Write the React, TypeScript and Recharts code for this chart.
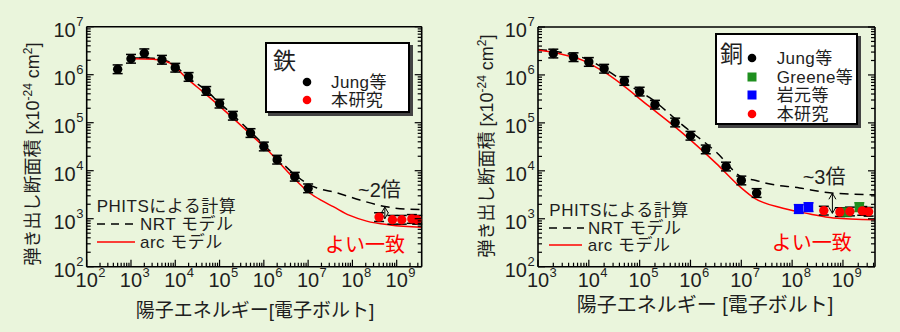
import React from "react";
import {
  ComposedChart,
  Line,
  Scatter,
  XAxis,
  YAxis,
  ErrorBar,
  ReferenceLine,
} from "recharts";

const FONT = "'Liberation Sans', 'Noto Sans CJK JP', sans-serif";
const INK = "#1e1e1e";
const BG = "#eaf5dc";
const RED = "#ff0000";
const GREEN = "#1f8f1f";
const BLUE = "#0000ff";

// axis ticks and ranges
const feXMajor = [1e2, 1e3, 1e4, 1e5, 1e6, 1e7, 1e8, 1e9];
const cuXMajor = [1e3, 1e4, 1e5, 1e6, 1e7, 1e8, 1e9];
const yMajor = [1e2, 1e3, 1e4, 1e5, 1e6, 1e7];
const feXDomain = [1e2, 3.67e9];
const cuXDomain = [1e3, 4.27e9];
const yDomain = [1e2, 1e7];

// relative size of the error bars (down / up)
const ERR_LO = 0.19;
const ERR_HI = 0.23;

// ---- 鉄 (Fe) ----
const feJungE = [5e2, 1e3, 2e3, 5e3, 1e4, 2e4, 5e4, 1e5, 2e5, 5e5, 1e6, 2e6, 5e6, 1e7];
const feJungS = [1.3e6, 2.15e6, 2.8e6, 2.05e6, 1.4e6, 9.0e5, 4.6e5, 2.5e5, 1.4e5, 6.1e4, 3.2e4, 1.7e4, 7.5e3, 4.3e3];
const feOursE = [4.0e8, 8.0e8, 1.3e9, 2.2e9, 2.9e9];
const feOursS = [1.08e3, 9.5e2, 9.5e2, 9.9e2, 9.5e2];
const feNrtE = [1e3, 3.16e3, 7.6e3, 1.82e4, 5e4, 1e5, 2e5, 5e5, 1e6, 2e6, 5e6, 1e7, 1.58e7, 4.4e7, 1.48e8, 5e8, 1.66e9, 3.67e9];
const feNrtS = [2.24e6, 2.19e6, 1.82e6, 9.3e5, 4.68e5, 2.57e5, 1.45e5, 6.5e4, 3.47e4, 1.82e4, 8.3e3, 5.25e3, 4.37e3, 3.47e3, 2.45e3, 1.82e3, 1.58e3, 1.55e3];
const feArcE = [1.12e3, 3.16e3, 7.6e3, 1.82e4, 5.1e4, 2.04e5, 5e5, 1.15e6, 2.5e6, 4.6e6, 1.1e7, 2e7, 3.7e7, 8.7e7, 2.1e8, 7.1e8, 3.67e9];
const feArcS = [2.14e6, 2.09e6, 1.74e6, 8.4e5, 3.8e5, 1.23e5, 5.75e4, 2.82e4, 1.32e4, 7.2e3, 3.39e3, 2.4e3, 1.78e3, 1.17e3, 8.9e2, 7.4e2, 6.6e2];

// ---- 銅 (Cu) ----
const cuJungE = [2e3, 5e3, 1e4, 2e4, 5e4, 1e5, 2e5, 5e5, 1e6, 2e6, 5e6, 1e7, 2e7];
const cuJungS = [2.8e6, 2.35e6, 1.87e6, 1.35e6, 7.5e5, 4.5e5, 2.4e5, 1.02e5, 5.4e4, 2.8e4, 1.23e4, 6.3e3, 3.45e3];
const cuGreeneE = [1.17e9, 2.1e9];
const cuGreeneS = [1.38e3, 1.75e3];
const cuIwamotoE = [1.35e8, 2.1e8];
const cuIwamotoS = [1.6e3, 1.75e3];
const cuOursE = [4.2e8, 8.7e8, 1.37e9, 2.4e9, 3.2e9];
const cuOursS = [1.48e3, 1.38e3, 1.42e3, 1.46e3, 1.4e3];
const cuNrtE = [1e3, 3.16e3, 1e4, 2.5e4, 6.3e4, 1.55e5, 6.9e5, 3.16e6, 1.07e7, 1.95e7, 3.1e7, 1.4e8, 5.5e8, 4.27e9];
const cuNrtS = [3.4e6, 2.9e6, 2.05e6, 1.17e6, 6.0e5, 3.4e5, 9.1e4, 2.5e4, 7.2e3, 6.3e3, 5.5e3, 4.4e3, 3.47e3, 3.16e3];
const cuArcE = [1e3, 2.57e3, 7.4e3, 2.14e4, 1.55e5, 6.9e5, 3.16e6, 1e7, 1.8e7, 6.6e7, 2.24e8, 6.5e8, 4.27e9];
const cuArcS = [3.3e6, 2.8e6, 2.04e6, 1.1e6, 2.2e5, 6.2e4, 1.45e4, 4.4e3, 2.7e3, 1.66e3, 1.26e3, 1.04e3, 9.5e2];

// "~2倍" / "~3倍" arrows: [energy, upper, lower]
const feArrow = [5.4e8, 1.75e3, 1.0e3];
const cuArrow = [6.2e8, 3.4e3, 1.3e3];

const pts = (e: number[], s: number[]) =>
  e.map((v, i) => ({ e: v, s: s[i], err: [s[i] * ERR_LO, s[i] * ERR_HI] }));
const curve = (e: number[], s: number[]) => e.map((v, i) => ({ e: v, s: s[i] }));

const minorsOf = (majors: number[], max: number) =>
  majors
    .flatMap((m) => [2, 3, 4, 5, 6, 7, 8, 9].map((k) => k * m))
    .filter((v) => v < max);

const isMajor = (v: number) =>
  Math.abs(Math.log10(v) - Math.round(Math.log10(v))) < 1e-6;
const expOf = (v: number) => Math.round(Math.log10(v));
const MAJOR = 7;
const MINOR = 4;

const BottomTick = (p: any) => {
  const { x, y, payload } = p;
  const major = isMajor(payload.value);
  return (
    <g>
      <line x1={x} y1={y} x2={x} y2={y - (major ? MAJOR : MINOR)} stroke="#000" strokeWidth={1.2} />
      {major && (
        <>
          <text x={x} y={y + 20} textAnchor="middle" fontSize={20} fill={INK} fontFamily={FONT}>10</text>
          <text x={x + 11.5} y={y + 10} fontSize={13} fill={INK} fontFamily={FONT}>{expOf(payload.value)}</text>
        </>
      )}
    </g>
  );
};
const TopTick = (p: any) => {
  const { x, y, payload } = p;
  const major = isMajor(payload.value);
  return <line x1={x} y1={y} x2={x} y2={y + (major ? MAJOR : MINOR)} stroke="#000" strokeWidth={1.2} />;
};
const LeftTick = (p: any) => {
  const { x, y, payload } = p;
  const major = isMajor(payload.value);
  return (
    <g>
      <line x1={x} y1={y} x2={x + (major ? MAJOR : MINOR)} y2={y} stroke="#000" strokeWidth={1.2} />
      {major && (
        <>
          <text x={x - 11} y={y + 10} textAnchor="end" fontSize={20} fill={INK} fontFamily={FONT}>10</text>
          <text x={x - 10.5} y={y - 1} fontSize={13} fill={INK} fontFamily={FONT}>{expOf(payload.value)}</text>
        </>
      )}
    </g>
  );
};
const RightTick = (p: any) => {
  const { x, y, payload } = p;
  const major = isMajor(payload.value);
  return <line x1={x} y1={y} x2={x - (major ? MAJOR : MINOR)} y2={y} stroke="#000" strokeWidth={1.2} />;
};

const circle = (fill: string) => (p: any) => <circle cx={p.cx} cy={p.cy} r={4.7} fill={fill} />;
const square = (fill: string) => (p: any) => (
  <rect x={p.cx - 4.7} y={p.cy - 4.7} width={9.4} height={9.4} fill={fill} />
);

const DoubleArrow = (p: any) => {
  const { x1, y1, y2 } = p;
  const top = Math.min(y1, y2);
  const bot = Math.max(y1, y2);
  return (
    <g stroke="#000" strokeWidth={1} fill="none">
      <line x1={x1} y1={top} x2={x1} y2={bot} />
      <polyline points={`${x1 - 3.5},${top + 6} ${x1},${top} ${x1 + 3.5},${top + 6}`} />
      <polyline points={`${x1 - 3.5},${bot - 6} ${x1},${bot} ${x1 + 3.5},${bot - 6}`} />
    </g>
  );
};

const frame = { stroke: "#000", strokeWidth: 1.6 };

function Panel(props: {
  xDomain: number[];
  xMajor: number[];
  margin: { top: number; right: number; bottom: number; left: number };
  nrt: { e: number; s: number }[];
  arc: { e: number; s: number }[];
  arrow: number[];
  children: React.ReactNode;
}) {
  const { xDomain, xMajor, margin, nrt, arc, arrow } = props;
  const xTicks = [...xMajor, ...minorsOf(xMajor, xDomain[1])];
  const yTicks = [...yMajor, ...minorsOf(yMajor.slice(0, -1), yDomain[1])];
  return (
    <ComposedChart width={450} height={332} margin={margin} style={{ position: "absolute", left: 0, top: 0 }}>
      <XAxis xAxisId="x" dataKey="e" type="number" scale="log" domain={xDomain} allowDataOverflow
        ticks={xTicks} interval={0} tickSize={0} tickMargin={0} tickLine={false}
        tick={BottomTick} height={30} axisLine={frame} />
      <XAxis xAxisId="xt" orientation="top" type="number" scale="log" domain={xDomain} allowDataOverflow
        ticks={xTicks} interval={0} tickSize={0} tickMargin={0} tickLine={false}
        tick={TopTick} height={1} axisLine={frame} />
      <YAxis yAxisId="y" type="number" scale="log" domain={yDomain} allowDataOverflow
        ticks={yTicks} interval={0} tickSize={0} tickMargin={0} tickLine={false}
        tick={LeftTick} width={60} axisLine={frame} />
      <YAxis yAxisId="yr" orientation="right" type="number" scale="log" domain={yDomain} allowDataOverflow
        ticks={yTicks} interval={0} tickSize={0} tickMargin={0} tickLine={false}
        tick={RightTick} width={1} axisLine={frame} />
      <Line xAxisId="x" yAxisId="y" data={nrt} dataKey="s" type="monotone" stroke="#000"
        strokeWidth={1.5} strokeDasharray="9 6" dot={false} isAnimationActive={false} />
      <Line xAxisId="x" yAxisId="y" data={arc} dataKey="s" type="monotone" stroke={RED}
        strokeWidth={1.5} dot={false} isAnimationActive={false} />
      <ReferenceLine xAxisId="x" yAxisId="y"
        segment={[{ x: arrow[0], y: arrow[1] }, { x: arrow[0], y: arrow[2] }]}
        shape={DoubleArrow} />
      {props.children}
    </ComposedChart>
  );
}

const Txt = (p: { x: number; y: number; size: number; color?: string; ls?: number; children: React.ReactNode }) => (
  <div style={{ position: "absolute", left: p.x, top: p.y, transform: "translateY(-50%)",
    fontSize: p.size, color: p.color || INK, whiteSpace: "nowrap", lineHeight: 1,
    letterSpacing: p.ls || 0 }}>
    {p.children}
  </div>
);

const SampleLine = (p: { x: number; y: number; w: number; dashed?: boolean; color: string }) => (
  <svg style={{ position: "absolute", left: p.x, top: p.y - 4 }} width={p.w} height={8}>
    <line x1={0} y1={4} x2={p.w} y2={4} stroke={p.color} strokeWidth={1.5}
      strokeDasharray={p.dashed ? "8 6" : undefined} />
  </svg>
);

const Mark = (p: { x: number; y: number; color: string; sq?: boolean }) => (
  <svg style={{ position: "absolute", left: p.x - 5, top: p.y - 5 }} width={10} height={10}>
    {p.sq ? <rect x={0.5} y={0.5} width={9} height={9} fill={p.color} /> : <circle cx={5} cy={5} r={4.3} fill={p.color} />}
  </svg>
);

const boxStyle = (left: number, top: number, w: number, h: number): React.CSSProperties => ({
  position: "absolute", left, top, width: w, height: h, boxSizing: "border-box",
  border: "2px solid #000", background: "#fff", boxShadow: "3px 3px 0 #444",
});

const YLabel = (p: { x: number; y: number }) => (
  <div style={{ position: "absolute", left: p.x, top: p.y, transform: "translate(-50%, -50%) rotate(-90deg)",
    fontSize: 18, color: INK, whiteSpace: "nowrap", lineHeight: 1 }}>
    弾き出し断面積 [x10<sup style={{ fontSize: 12, lineHeight: 0 }}>-24</sup> cm<sup style={{ fontSize: 12, lineHeight: 0 }}>2</sup>]
  </div>
);

export default function App() {
  return (
    <div style={{ position: "absolute", left: 0, top: 0, width: 900, height: 332, background: BG, fontFamily: FONT, overflow: "hidden" }}>
      {/* 鉄 */}
      <div style={{ position: "absolute", left: 0, top: 0, width: 450, height: 332 }}>
        <Panel xDomain={feXDomain} xMajor={feXMajor}
          margin={{ top: 25.7, right: 27.3, bottom: 35.3, left: 26.7 }}
          nrt={curve(feNrtE, feNrtS)} arc={curve(feArcE, feArcS)} arrow={feArrow}>
          <Scatter xAxisId="x" yAxisId="y" data={pts(feJungE, feJungS)} dataKey="s" shape={circle("#000")} isAnimationActive={false}>
            <ErrorBar dataKey="err" direction="y" width={5} stroke="#000" strokeWidth={1.5} />
          </Scatter>
          <Scatter xAxisId="x" yAxisId="y" data={pts(feOursE, feOursS)} dataKey="s" shape={circle(RED)} isAnimationActive={false}>
            <ErrorBar dataKey="err" direction="y" width={5} stroke="#000" strokeWidth={1.5} />
          </Scatter>
        </Panel>
        <div style={boxStyle(265, 41.7, 145, 71)} />
        <Txt x={273} y={61} size={23}>鉄</Txt>
        <Mark x={307} y={82} color="#000" />
        <Txt x={331} y={82} size={17} ls={0.4}>Jung等</Txt>
        <Mark x={307} y={100} color={RED} />
        <Txt x={331} y={100} size={17} ls={0.4}>本研究</Txt>
        <Txt x={96.7} y={206} size={17} ls={0.5}>PHITSによる計算</Txt>
        <SampleLine x={97} y={224} w={38} dashed color="#000" />
        <Txt x={140} y={224} size={17} ls={0.5}>NRT モデル</Txt>
        <SampleLine x={97} y={242} w={38} color={RED} />
        <Txt x={140} y={242} size={17} ls={0.5}>arc モデル</Txt>
        <Txt x={358} y={190} size={20}>~2倍</Txt>
        <Txt x={325} y={245} size={20} color={RED}>よい一致</Txt>
        <YLabel x={33.3} y={154} />
        <div style={{ position: "absolute", left: 255, top: 310, transform: "translate(-50%, -50%)", fontSize: 19, color: INK, whiteSpace: "nowrap", lineHeight: 1 }}>
          陽子エネルギー[電子ボルト]
        </div>
      </div>

      {/* 銅 */}
      <div style={{ position: "absolute", left: 450, top: 0, width: 450, height: 332 }}>
        <Panel xDomain={cuXDomain} xMajor={cuXMajor}
          margin={{ top: 26, right: 24, bottom: 35.3, left: 28 }}
          nrt={curve(cuNrtE, cuNrtS)} arc={curve(cuArcE, cuArcS)} arrow={cuArrow}>
          <Scatter xAxisId="x" yAxisId="y" data={pts(cuJungE, cuJungS)} dataKey="s" shape={circle("#000")} isAnimationActive={false}>
            <ErrorBar dataKey="err" direction="y" width={5} stroke="#000" strokeWidth={1.5} />
          </Scatter>
          <Scatter xAxisId="x" yAxisId="y" data={pts(cuIwamotoE, cuIwamotoS)} dataKey="s" shape={square(BLUE)} isAnimationActive={false}>
            <ErrorBar dataKey="err" direction="y" width={5} stroke={BLUE} strokeWidth={1.5} />
          </Scatter>
          <Scatter xAxisId="x" yAxisId="y" data={pts(cuGreeneE, cuGreeneS)} dataKey="s" shape={square(GREEN)} isAnimationActive={false}>
            <ErrorBar dataKey="err" direction="y" width={5} stroke={GREEN} strokeWidth={1.5} />
          </Scatter>
          <Scatter xAxisId="x" yAxisId="y" data={pts(cuOursE, cuOursS)} dataKey="s" shape={circle(RED)} isAnimationActive={false}>
            <ErrorBar dataKey="err" direction="y" width={5} stroke="#000" strokeWidth={1.5} />
          </Scatter>
        </Panel>
        <div style={boxStyle(265, 33.3, 143, 92)} />
        <Txt x={270} y={54} size={23}>銅</Txt>
        <Mark x={302.3} y={58.3} color="#000" />
        <Txt x={326.7} y={58.3} size={17} ls={0.4}>Jung等</Txt>
        <Mark x={302.3} y={76.7} color={GREEN} sq />
        <Txt x={326.7} y={76.7} size={17} ls={0.4}>Greene等</Txt>
        <Mark x={302.3} y={95} color={BLUE} sq />
        <Txt x={326.7} y={95} size={17} ls={0.4}>岩元等</Txt>
        <Mark x={302.3} y={114} color={RED} />
        <Txt x={326.7} y={114} size={17} ls={0.4}>本研究</Txt>
        <Txt x={99.3} y={210.3} size={17} ls={0.5}>PHITSによる計算</Txt>
        <SampleLine x={99} y={227.8} w={35} dashed color="#000" />
        <Txt x={138} y={227.8} size={17} ls={0.5}>NRT モデル</Txt>
        <SampleLine x={99} y={245.3} w={33} color={RED} />
        <Txt x={137.7} y={245.3} size={17} ls={0.5}>arc モデル</Txt>
        <Txt x={352.7} y={176.7} size={20}>~3倍</Txt>
        <Txt x={321.7} y={243.3} size={20} color={RED}>よい一致</Txt>
        <YLabel x={36.7} y={146} />
        <div style={{ position: "absolute", left: 255, top: 305, transform: "translate(-50%, -50%)", fontSize: 20, color: INK, whiteSpace: "nowrap", lineHeight: 1 }}>
          陽子エネルギー [電子ボルト]
        </div>
      </div>
    </div>
  );
}
